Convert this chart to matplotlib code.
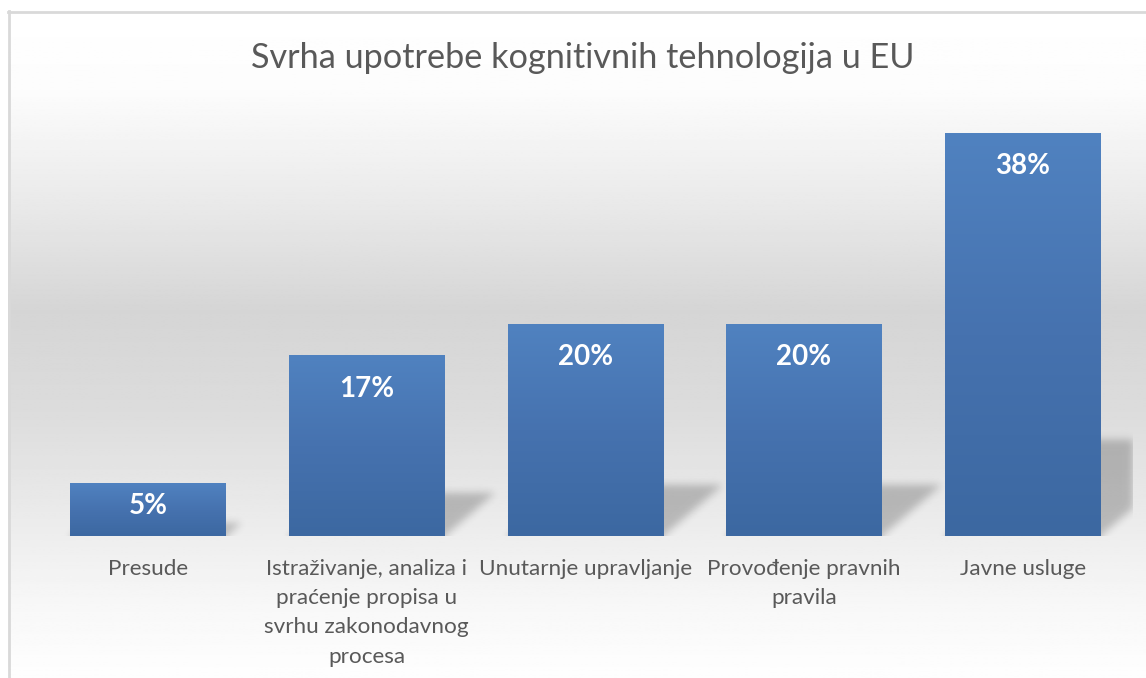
import numpy as np
import matplotlib
matplotlib.use("Agg")
import matplotlib.pyplot as plt
from matplotlib.colors import LinearSegmentedColormap

# 数据
categories = [
    "Presude",
    "Istraživanje, analiza i\npraćenje propisa u\nsvrhu zakonodavnog\nprocesa",
    "Unutarnje upravljanje",
    "Provođenje pravnih\npravila",
    "Javne usluge",
]
values = [5, 17, 20, 20, 38]
value_labels = ["5%", "17%", "20%", "20%", "38%"]
title = "Svrha upotrebe kognitivnih tehnologija u EU"

plt.rcParams["font.family"] = ["Lato", "DejaVu Sans"]
text_color = "#595959"

W, H = 1146, 678
fig = plt.figure(figsize=(W / 100, H / 100), dpi=100)

# ----------------------------
# 背景渐变 + 边框
# ----------------------------
bg_left, bg_top = 8 / W, 11 / H
bg = fig.add_axes([bg_left, 0, 1 - bg_left, 1 - bg_top], zorder=-10)
stops = [0, 0.12, 0.3, 0.45, 0.6, 0.75, 0.9, 1.0]
levels = [255, 252, 232, 213, 220, 234, 248, 254]
t = np.linspace(0, 1, 400)
shade = np.interp(t, stops, levels) / 255
grad = np.repeat(shade[:, None], 2, axis=1)
bg.imshow(grad, cmap="gray", vmin=0, vmax=1, aspect="auto", extent=[0, 1, 0, 1], origin="upper")
bg.set_xlim(0, 1)
bg.set_ylim(0, 1)
bg.axis("off")
bg.plot([0.001, 0.001], [0, 1], color="#d9d9d9", lw=2, transform=bg.transAxes, clip_on=False)
bg.plot([0, 1], [0.999, 0.999], color="#d9d9d9", lw=2, transform=bg.transAxes, clip_on=False)

# ----------------------------
# 主坐标轴
# ----------------------------
ax_l, ax_r = 38.5 / W, 1132 / W
ax_b, ax_t = (H - 536) / H, (H - 112) / H
ax = fig.add_axes([ax_l, ax_b, ax_r - ax_l, ax_t - ax_b])
ax.set_facecolor("none")
x = np.arange(len(values))
bar_w = 0.71
xlim = (-0.5, len(values) - 0.5)
ylim = (0, 40)

bars = ax.bar(x, values, width=bar_w, color="#4673b0", zorder=2)

# 柱子渐变
bar_cmap = LinearSegmentedColormap.from_list("barg", ["#3c68a1", "#4672af", "#5082c0"])
g = np.linspace(0, 1, 256)[:, None]
for b in bars:
    ax.imshow(g, cmap=bar_cmap, aspect="auto", origin="lower", zorder=3,
              extent=[b.get_x(), b.get_x() + b.get_width(), 0, b.get_height()])

# 透视阴影
px_per_x = (ax_r - ax_l) * W / (xlim[1] - xlim[0])
px_per_y = (ax_t - ax_b) * H / (ylim[1] - ylim[0])
gx = np.linspace(xlim[0], xlim[1], 1100)
gy = np.linspace(-3, ylim[1], int((ylim[1] + 3) * px_per_y))
GX, GY = np.meshgrid(gx, gy)
mask = np.zeros_like(GX)
for xi, v in zip(x, values):
    top = 0.24 * v
    dx = 0.28 * v * px_per_y / px_per_x
    shift = dx * np.clip(GY, 0, None) / top
    inside = (GY <= top) & (GX >= xi - bar_w / 2 + shift) & (GX <= xi + bar_w / 2 + shift)
    mask = np.maximum(mask, inside.astype(float))
k = np.arange(-12, 13)
kern = np.exp(-k**2 / (2 * 4.0**2))
kern /= kern.sum()
mask = np.apply_along_axis(lambda r: np.convolve(r, kern, mode="same"), 1, mask)
mask = np.apply_along_axis(lambda c: np.convolve(c, kern, mode="same"), 0, mask)
rgba = np.zeros(mask.shape + (4,))
rgba[..., 3] = 0.22 * mask
ax.imshow(rgba, origin="lower", aspect="auto", zorder=1,
          extent=[xlim[0], xlim[1], gy[0], gy[-1]])

ax.set_xlim(*xlim)
ax.set_ylim(*ylim)

# 数据标签
for xi, v, lab in zip(x, values, value_labels):
    off = min(33, 0.43 * v * px_per_y) * 0.72
    ax.annotate(lab, (xi, v), xytext=(0, -off), textcoords="offset points",
                ha="center", va="center", color="white", fontsize=20,
                fontweight="bold", zorder=5)

ax.set_xticks(x)
ax.set_xticklabels(categories, color=text_color, fontsize=16.2, linespacing=1.58, va="top")
ax.tick_params(axis="x", length=0, pad=16.5)
ax.set_yticks([])
for s in ax.spines.values():
    s.set_visible(False)

fig.text(583 / W, 1 - 58 / H, title, ha="center", va="center", color=text_color, fontsize=24.7)

fig.savefig("out.png", dpi=100)
